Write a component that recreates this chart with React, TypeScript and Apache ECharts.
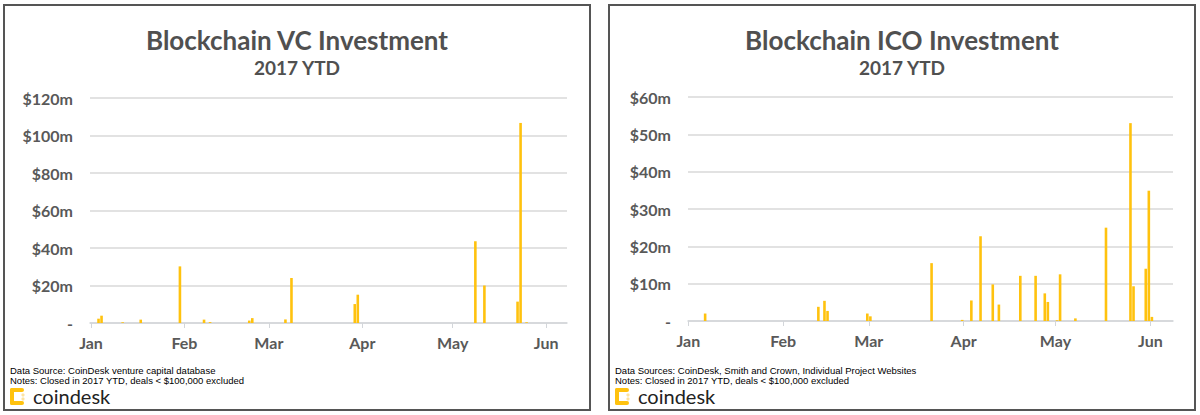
import React, { useEffect, useRef } from 'react';
import * as echarts from 'echarts';

// ---- Data ----
const vcDates = ['2017-01-03', '2017-01-04', '2017-01-11', '2017-01-17', '2017-01-30', '2017-02-07', '2017-02-09', '2017-02-22', '2017-02-23', '2017-03-06', '2017-03-08', '2017-03-29', '2017-03-30', '2017-05-08', '2017-05-11', '2017-05-22', '2017-05-23', '2017-05-25'];
const vcValues = [2.3, 3.9, 0.4, 1.8, 30.2, 1.8, 0.5, 1.3, 2.6, 1.9, 24, 10.1, 15.1, 43.6, 20, 11.4, 106.7, 0.4];

const icoDates = ['2017-01-06', '2017-02-12', '2017-02-14', '2017-02-15', '2017-02-28', '2017-03-01', '2017-03-21', '2017-03-31', '2017-04-03', '2017-04-06', '2017-04-10', '2017-04-12', '2017-04-19', '2017-04-24', '2017-04-27', '2017-04-28', '2017-05-01', '2017-05-02', '2017-05-07', '2017-05-17', '2017-05-25', '2017-05-26', '2017-05-30', '2017-05-31', '2017-06-01'];
const icoValues = [2.0, 3.8, 5.4, 2.7, 2.0, 1.25, 15.5, 0.3, 5.5, 22.7, 9.8, 4.4, 12.1, 12.1, 7.4, 5.1, 0.2, 12.5, 0.7, 25, 53, 9.3, 14, 34.9, 1.1];

const monthStarts = ['2017-01-01', '2017-02-01', '2017-03-01', '2017-04-01', '2017-05-01', '2017-06-01'];
const monthLabels = ['Jan', 'Feb', 'Mar', 'Apr', 'May', 'Jun'];

const vcTitle = 'Blockchain VC Investment';
const icoTitle = 'Blockchain ICO Investment';
const subTitle = '2017 YTD';
const vcSource = 'Data Source: CoinDesk venture capital database';
const icoSource = 'Data Sources: CoinDesk, Smith and Crown, Individual Project Websites';
const notes = 'Notes: Closed in 2017 YTD, deals < $100,000 excluded';

const dayIndex = (s: string) => {
  const [y, m, d] = s.split('-').map(Number);
  return (Date.UTC(y, m - 1, d) - Date.UTC(2017, 0, 1)) / 86400000;
};
const monthTickDays = monthStarts.map(dayIndex);

const BAR = '#FFC20E';
const TXT = '#595959';
const GRID = '#d9d9d9';
const FONT = 'Lato, "Open Sans", sans-serif';
const SMALL_FONT = '"Liberation Sans Narrow", "Liberation Sans", Arial, sans-serif';

function xAxisFor(gridIndex: number, min: number, max: number) {
  return {
    gridIndex,
    type: 'value',
    min,
    max,
    splitLine: { show: false },
    axisLine: { show: true, lineStyle: { color: '#d3d6da', width: 1.5 } },
    axisTick: { show: true, customValues: monthTickDays, length: 5, lineStyle: { color: '#d3d6da', width: 1 } },
    axisLabel: {
      customValues: monthTickDays,
      formatter: (v: number) => {
        const i = monthTickDays.indexOf(v);
        return i >= 0 ? monthLabels[i] : '';
      },
      fontSize: 16,
      fontWeight: 'bold',
      color: TXT,
      fontFamily: FONT,
      margin: 11,
    },
  };
}

function yAxisFor(gridIndex: number, max: number, interval: number) {
  return {
    gridIndex,
    type: 'value',
    min: 0,
    max,
    interval,
    axisLine: { show: false },
    axisTick: { show: false },
    splitLine: { lineStyle: { color: GRID, width: 1.5 } },
    axisLabel: {
      formatter: (v: number) => (v === 0 ? '-' : '$' + v + 'm'),
      fontSize: 16,
      fontWeight: 'bold',
      color: TXT,
      fontFamily: FONT,
      margin: 17,
    },
  };
}

function panelGraphics(ox: number, cx: number, title: string, source: string) {
  return [
    {
      type: 'rect',
      shape: { x: ox, y: 5, width: 586, height: 405 },
      style: { fill: 'none', stroke: '#555', lineWidth: 2 },
      z: 0,
    },
    {
      type: 'text', x: cx, y: 40,
      style: { text: title, fill: '#505050', fontSize: 26, fontWeight: 'bold', fontFamily: FONT, textAlign: 'center', textVerticalAlign: 'middle' },
    },
    {
      type: 'text', x: cx, y: 67,
      style: { text: subTitle, fill: '#505050', fontSize: 19, fontWeight: 'bold', fontFamily: FONT, textAlign: 'center', textVerticalAlign: 'middle' },
    },
    {
      type: 'text', x: ox + 6, y: 370.5,
      style: { text: source, fill: '#000', fontSize: 9.5, lineHeight: 9, fontFamily: SMALL_FONT, textAlign: 'left', textVerticalAlign: 'middle' },
    },
    {
      type: 'text', x: ox + 6, y: 380.5,
      style: { text: notes, fill: '#000', fontSize: 9.5, lineHeight: 9, fontFamily: SMALL_FONT, textAlign: 'left', textVerticalAlign: 'middle' },
    },
    { type: 'rect', shape: { x: ox + 6, y: 388, width: 14, height: 4, r: 2 }, style: { fill: BAR } },
    { type: 'rect', shape: { x: ox + 6, y: 388, width: 4, height: 17, r: 2 }, style: { fill: BAR } },
    { type: 'rect', shape: { x: ox + 6, y: 401, width: 14, height: 4, r: 2 }, style: { fill: BAR } },
    { type: 'circle', shape: { cx: ox + 19, cy: 395, r: 1.6 }, style: { fill: '#fde3a0' } },
    { type: 'circle', shape: { cx: ox + 19, cy: 399, r: 1.6 }, style: { fill: '#fde3a0' } },
    {
      type: 'text', x: ox + 29, y: 396,
      style: { text: 'coindesk', fill: '#222', fontSize: 20, fontFamily: FONT, textAlign: 'left', textVerticalAlign: 'middle' },
    },
  ];
}

export default function App() {
  const ref = useRef<HTMLDivElement>(null);
  useEffect(() => {
    if (!ref.current) return;
    const chart = echarts.init(ref.current, undefined, { renderer: 'svg' });
    const vcData = vcDates.map((d, i) => [dayIndex(d) + 0.5, vcValues[i]]);
    const icoData = icoDates.map((d, i) => [dayIndex(d) + 0.5, icoValues[i]]);
    chart.setOption({
      animation: false,
      backgroundColor: '#fff',
      grid: [
        { left: 90, top: 98, width: 477, height: 225 },
        { left: 688, top: 97, width: 485, height: 224 },
      ],
      xAxis: [xAxisFor(0, -0.33, 157.9), xAxisFor(1, -0.1, 158.4)],
      yAxis: [yAxisFor(0, 120, 20), yAxisFor(1, 60, 10)],
      series: [
        { type: 'bar', xAxisIndex: 0, yAxisIndex: 0, data: vcData, barWidth: 2.6, itemStyle: { color: BAR }, z: 3 },
        { type: 'bar', xAxisIndex: 1, yAxisIndex: 1, data: icoData, barWidth: 2.6, itemStyle: { color: BAR }, z: 3 },
      ],
      graphic: [
        ...panelGraphics(4, 297, vcTitle, vcSource),
        ...panelGraphics(609, 902, icoTitle, icoSource),
      ],
    });
    return () => chart.dispose();
  }, []);
  return (
    <div
      ref={ref}
      style={{ position: 'absolute', left: 0, top: 0, width: 1200, height: 415, background: '#fff' }}
    />
  );
}
